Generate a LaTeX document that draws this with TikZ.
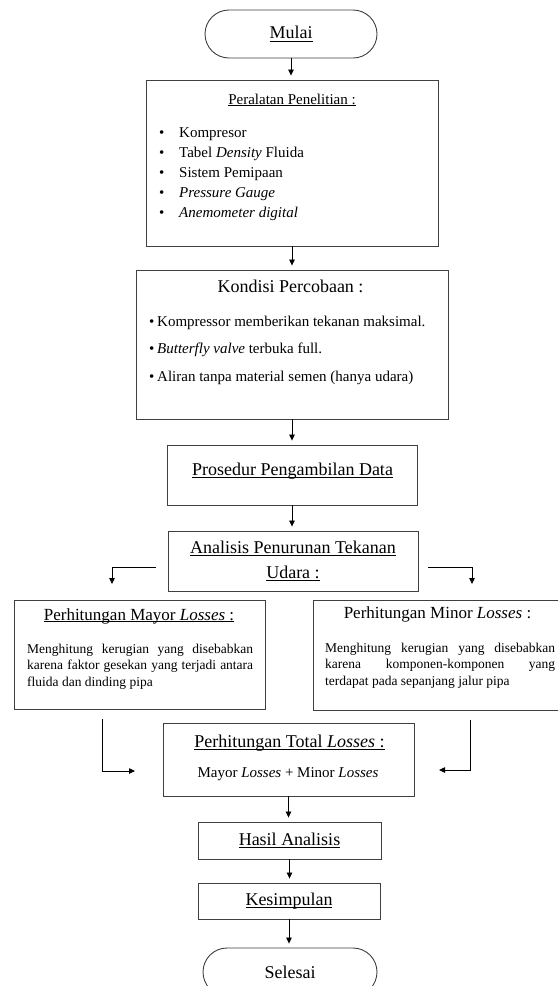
\documentclass[tikz,border=0pt]{standalone}
\usepackage{fontspec}
\setmainfont{Liberation Serif}
\usetikzlibrary{arrows.meta}
\newlength\ulw
\newcommand\myul[1]{\settowidth\ulw{#1}\rlap{\rule[-0.14em]{\ulw}{0.055em}}#1}
\begin{document}
\begin{tikzpicture}[x=1pt,y=-1pt,
 box/.style={draw=black!75, line width=0.9pt, inner sep=0pt, rectangle},
 term/.style={box, rounded corners=24pt},
 arr/.style={-{Triangle[length=6pt,width=5.5pt]}, line width=0.8pt, black},
 down/.style={arr, shorten >=4pt},
 txt/.style={inner sep=0pt, anchor=base},
 txtl/.style={inner sep=0pt, anchor=base west},
 fH/.style={font=\fontsize{18}{25}\selectfont},
 fM/.style={font=\fontsize{17}{22}\selectfont},
 fB/.style={font=\fontsize{15}{20}\selectfont},
 fS/.style={font=\fontsize{13.5}{16.5}\selectfont},
]
\useasboundingbox (0,0) rectangle (558,986);
\clip (0,0) rectangle (558,986);
\fill[white] (0,0) rectangle (558,986);

% Mulai
\node[term, minimum width=172pt, minimum height=48pt, fH] (mulai) at (291,34) {\myul{Mulai}};

% Peralatan
\node[box, minimum width=292pt, minimum height=166pt] (peral) at (292,163) {};
\node[txt, fB] (peralT) at (292,104) {\myul{Peralatan Penelitian :}};
\node[txtl, fB] (p1) at (159,137) {\makebox[20pt][l]{\textbullet}Kompresor};
\node[txtl, fB] (p2) at (159,157) {\makebox[20pt][l]{\textbullet}Tabel \textit{Density} Fluida};
\node[txtl, fB] (p3) at (159,177) {\makebox[20pt][l]{\textbullet}Sistem Pemipaan};
\node[txtl, fB] (p4) at (159,197) {\makebox[20pt][l]{\textbullet}\textit{Pressure Gauge}};
\node[txtl, fB] (p5) at (159,217) {\makebox[20pt][l]{\textbullet}\textit{Anemometer digital}};

% Kondisi
\node[box, minimum width=312pt, minimum height=149pt] (kond) at (292,344.5) {};
\node[txt, fH] (kondT) at (290.5,292) {Kondisi Percobaan :};
\node[txtl, fB] (k1) at (149,326) {\makebox[8pt][l]{\textbullet}Kompressor memberikan tekanan maksimal.};
\node[txtl, fB] (k2) at (149,353) {\makebox[8pt][l]{\textbullet}\textit{Butterfly valve} terbuka full.};
\node[txtl, fB] (k3) at (149,381) {\makebox[8pt][l]{\textbullet}Aliran tanpa material semen (hanya udara)};

% Prosedur
\node[box, minimum width=250pt, minimum height=60pt] (pros) at (292,475) {};
\node[txt, fH] (prosT) at (292.5,475) {\myul{Prosedur Pengambilan Data}};

% Analisis
\node[box, minimum width=250pt, minimum height=60pt, fH, align=center] (anal) at (293,561) {\myul{Analisis Penurunan Tekanan}\\\myul{Udara :}};

% Mayor
\node[box, minimum width=251pt, minimum height=109pt] (mayor) at (139.5,654.5) {};
\node[txt, fM] (mayorT) at (139,620) {\myul{Perhitungan Mayor \textit{Losses} :}};
\node[txtl, fS] (ma1) at (27,653) {\makebox[226pt][s]{Menghitung kerugian yang disebabkan}};
\node[txtl, fS] (ma2) at (27,669.5) {\makebox[226pt][s]{karena faktor gesekan yang terjadi antara}};
\node[txtl, fS] (ma3) at (27,686) {fluida dan dinding pipa};

% Minor
\node[box, minimum width=251pt, minimum height=110pt] (minor) at (438.5,655) {};
\node[txt, fM] (minorT) at (437.5,618) {Perhitungan Minor \textit{Losses} :};
\node[txtl, fS] (mi1) at (325,652) {\makebox[230pt][s]{Menghitung kerugian yang disebabkan}};
\node[txtl, fS] (mi2) at (325,668.5) {\makebox[230pt][s]{karena komponen-komponen yang}};
\node[txtl, fS] (mi3) at (325,685) {terdapat pada sepanjang jalur pipa};

% Total
\node[box, minimum width=251pt, minimum height=73pt] (total) at (288.5,759.5) {};
\node[txt, fH] (totalT) at (289.5,747) {\myul{Perhitungan Total \textit{Losses} :}};
\node[txt, fB] (totalB) at (288,777) {Mayor \textit{Losses} + Minor \textit{Losses}};

% Hasil, Kesimpulan, Selesai
\node[box, minimum width=183pt, minimum height=37pt, fH] (hasil) at (289.5,840.5) {\myul{Hasil Analisis}};
\node[box, minimum width=182pt, minimum height=36pt, fH] (kes) at (289,901) {\myul{Kesimpulan}};
\node[term, minimum width=174pt, minimum height=48pt, fH] (sel) at (290,972) {Selesai};

% main arrows
\draw[down] (mulai.south) -- (mulai.south |- peral.north);
\draw[down] (peral.south) -- (peral.south |- kond.north);
\draw[down] (kond.south) -- (kond.south |- pros.north);
\draw[down] (pros.south) -- (pros.south |- anal.north);
\draw[down] (total.south) -- (total.south |- hasil.north);
\draw[down] (hasil.south) -- (hasil.south |- kes.north);
\draw[down] (kes.south) -- (kes.south |- sel.north);

% side connectors
\coordinate (aL) at (156,567);
\coordinate (aLd) at (112,584);
\draw[arr] (aL) -| (aLd);
\coordinate (aR) at (428,567);
\coordinate (aRd) at (472,584);
\draw[arr] (aR) -| (aRd);
\coordinate (mL) at (102,719);
\coordinate (tL) at (135,771);
\draw[arr] (mL) |- (tL);
\coordinate (mR) at (470,720);
\coordinate (tR) at (439,770);
\draw[arr] (mR) |- (tR);
\end{tikzpicture}
\end{document}
